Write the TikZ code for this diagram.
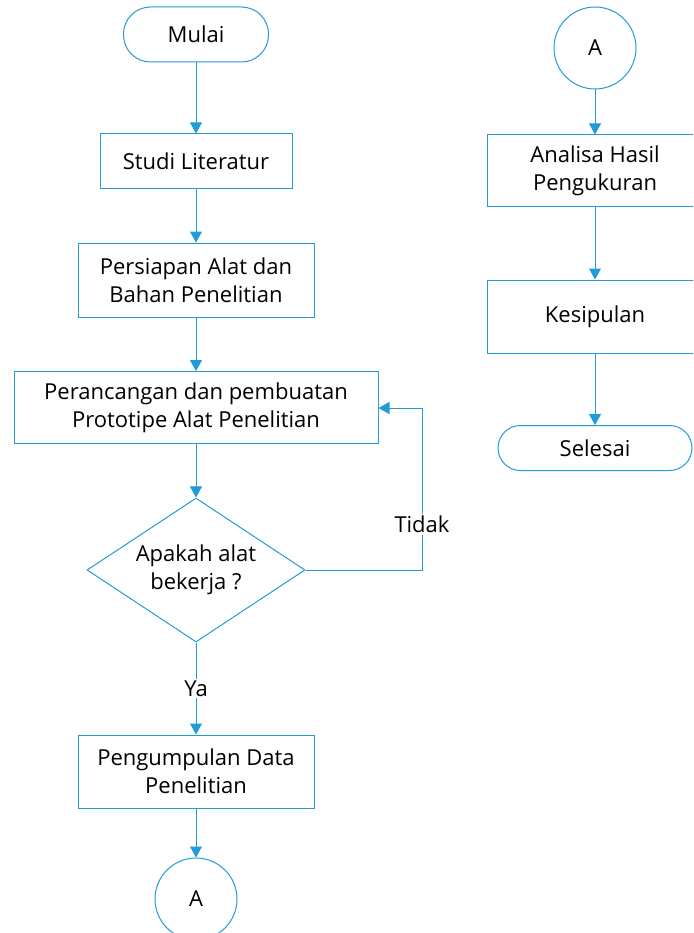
\documentclass[tikz,border=0pt]{standalone}
\usepackage{fontspec}
\setmainfont{Open Sans}
\usetikzlibrary{shapes.geometric,arrows.meta}
\definecolor{fc}{RGB}{35,155,215}
\begin{document}
\begin{tikzpicture}[x=1pt,y=-1pt,
  every node/.style={font=\fontsize{22}{28}\selectfont, text=black, align=center, inner sep=0pt},
  proc/.style={draw=fc, line width=1pt, rectangle, fill=white},
  term/.style={draw=fc, line width=1pt, rectangle, rounded corners=27pt, fill=white},
  conn/.style={draw=fc, line width=1pt, circle, minimum size=82pt},
  dec/.style={draw=fc, line width=1pt, diamond, minimum width=218pt, minimum height=144pt, aspect=1.5},
  arr/.style={draw=fc, line width=1pt, -{Triangle[length=11pt,width=12pt]}},
  lbl/.style={fill=white, inner sep=2pt}]
\useasboundingbox (0,0) rectangle (693,933);
\clip (0,0) rectangle (693,933);
% left column
\node[term, minimum width=145pt, minimum height=55pt] (mulai) at (196,34.5) {Mulai};
\node[proc, minimum width=192pt, minimum height=55pt] (studi) at (196,161.5) {Studi Literatur};
\node[proc, minimum width=236pt, minimum height=74pt] (persiapan) at (196,280) {Persiapan Alat dan\\Bahan Penelitian};
\node[proc, minimum width=364pt, minimum height=72pt] (perancangan) at (196,407.5) {Perancangan dan pembuatan\\Prototipe Alat Penelitian};
\node[dec] (dec) at (196,570) {};
\node at (196,570) {Apakah alat\\bekerja ?};
\node[proc, minimum width=236pt, minimum height=73pt] (pengumpulan) at (196,771.5) {Pengumpulan Data\\Penelitian};
\node[conn] (a1) at (196,899) {A};
% right column
\node[conn] (a2) at (595,48) {A};
\node[proc, minimum width=216pt, minimum height=72pt] (analisa) at (595,171) {Analisa Hasil\\Pengukuran};
\node[proc, minimum width=216pt, minimum height=73pt] (kesimpulan) at (595,316.5) {Kesipulan};
\node[term, minimum width=194pt, minimum height=45pt, rounded corners=22.5pt] (selesai) at (595,448) {Selesai};
% connectors
\draw[arr] (mulai) -- (studi);
\draw[arr] (studi) -- (persiapan);
\draw[arr] (persiapan) -- (perancangan);
\draw[arr] (perancangan) -- (dec);
\draw[arr] (dec.south) -- node[lbl, pos=0.5] {Ya} (pengumpulan);
\draw[arr] (pengumpulan) -- (a1);
\coordinate (tr) at (422,408);
\coordinate (br) at (422,570);
\draw[arr] (dec.east) -- (br) -- node[lbl, pos=0.28] {Tidak} (tr) -- (perancangan.east |- tr);
\draw[arr] (a2) -- (analisa);
\draw[arr] (analisa) -- (kesimpulan);
\draw[arr] (kesimpulan) -- (selesai);
\end{tikzpicture}
\end{document}
